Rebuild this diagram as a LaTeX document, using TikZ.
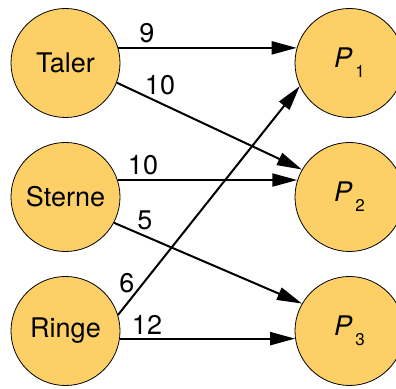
\documentclass[tikz,border=0pt]{standalone}
\usepackage{fontspec}
\setmainfont{TeX Gyre Heros}
\usetikzlibrary{arrows.meta}
\definecolor{gold}{RGB}{253,208,103}
\tikzset{
  good/.style = {
    circle, draw, fill=gold, line width=0.8pt,
    minimum size=109pt, inner sep=0pt,
    font=\fontsize{27}{30}\selectfont
  },
  flow/.style = {line width=2pt, -{Triangle[length=25pt, width=13pt]}},
  wt/.style   = {inner sep=0pt, font=\fontsize{27}{30}\selectfont}
}
\newcommand{\pidx}[1]{\textit{P}\kern3pt\raisebox{-10pt}{\fontsize{17}{17}\selectfont #1}}

\begin{document}
\begin{tikzpicture}[x=1pt, y=1pt]
\useasboundingbox (0,0) rectangle (396,388);
\clip (0,0) rectangle (396,388);
% goods on the left
\node[good] (taler)  at (65.5,325) {Taler};
\node[good] (sterne) at (65.5,191) {Sterne};
\node[good] (ringe)  at (65.5,57)  {Ringe};
% persons on the right
\node[good] (p1) at (349.5,325) {\pidx{1}};
\node[good] (p2) at (349.5,191) {\pidx{2}};
\node[good] (p3) at (349.5,57)  {\pidx{3}};
\draw[flow] (taler.16)  -- (p1.164);
\draw[flow] (taler.-21) -- (p2.150);
\draw[flow] (sterne.18) -- (p2.162);
\draw[flow] (sterne.-28) -- (p3.150);
\draw[flow] (ringe.17)  -- (p1.205);
\draw[flow] (ringe.-8)  -- (p3.188);
% weights
\node[wt] (w9)  at (147,355) {9};
\node[wt] (w10a) at (160,303) {10};
\node[wt] (w10b) at (143,223) {10};
\node[wt] (w5)  at (145,168) {5};
\node[wt] (w6)  at (127,105) {6};
\node[wt] (w12) at (147,63)  {12};
\end{tikzpicture}
\end{document}
